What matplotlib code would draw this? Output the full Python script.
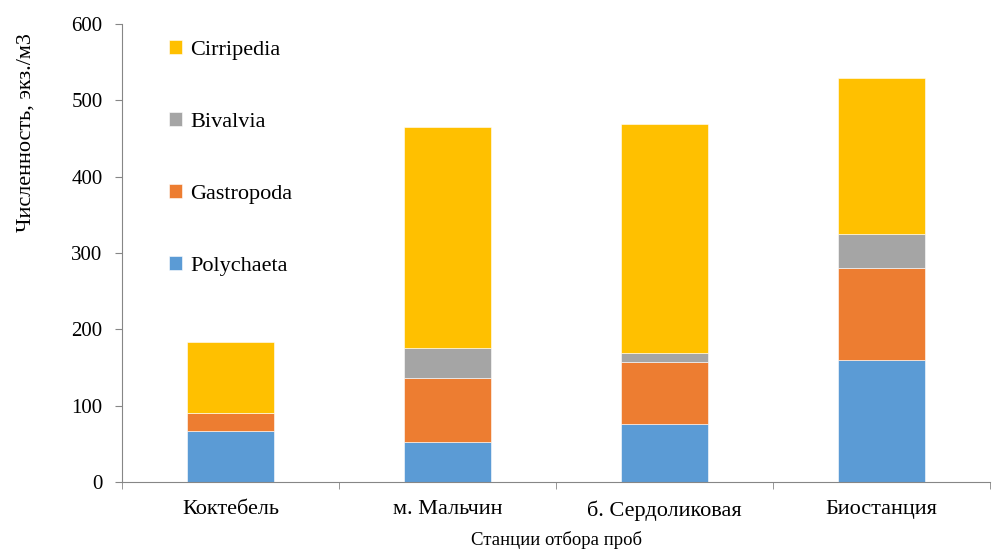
import numpy as np
import matplotlib.pyplot as plt

plt.rcParams['font.family'] = ['Liberation Serif', 'DejaVu Serif']

# --------------------------------------------------
# Data
# --------------------------------------------------
stations = ["Коктебель", "м. Мальчин", "б. Сердоликовая", "Биостанция"]
polychaeta = [67, 52, 76, 160]
gastropoda = [24, 84, 81, 120]
bivalvia = [0, 39, 12, 45]
cirripedia = [92, 290, 300, 204]

series = [
    ("Polychaeta", polychaeta, "#5B9BD5"),
    ("Gastropoda", gastropoda, "#ED7D31"),
    ("Bivalvia", bivalvia, "#A5A5A5"),
    ("Cirripedia", cirripedia, "#FFC000"),
]

fig = plt.figure(figsize=(9.93, 5.51), dpi=100)
ax = fig.add_axes([0.1229, 0.1252, 0.8741, 0.8312])

x = np.arange(len(stations))
bottom = np.zeros(len(stations))
handles = []
for name, vals, col in series:
    h = ax.bar(x, vals, width=0.405, bottom=bottom, color=col,
               edgecolor="white", linewidth=0.4, label=name)
    handles.append(h)
    bottom += np.array(vals)

ax.set_xlim(-0.5, 3.5)
ax.set_ylim(0, 600)
ax.set_yticks(range(0, 601, 100))
ax.set_xticks(x)
ax.set_xticklabels(stations)
ax.set_xticks(np.arange(-0.5, 3.6, 1), minor=True)

ax.tick_params(axis="x", which="major", length=0, pad=13, labelsize=16)
ax.tick_params(axis="x", which="minor", length=5, color="#868686")
ax.tick_params(axis="y", length=5, color="#868686", labelsize=15, pad=9)

for s in ["top", "right"]:
    ax.spines[s].set_visible(False)
for s in ["left", "bottom"]:
    ax.spines[s].set_color("#868686")

ax.set_xlabel("Станции отбора проб", fontsize=13.5)
ax.xaxis.set_label_coords(0.5, -0.108)
ax.set_ylabel("Численность, экз./м3", fontsize=16)
ax.yaxis.set_label_coords(-0.1, 0.764)

ax.legend(handles[::-1], [s[0] for s in series][::-1], loc="upper left",
          bbox_to_anchor=(0.031, 1.009), frameon=False, fontsize=16,
          handlelength=0.6, handleheight=0.6, handletextpad=0.35,
          labelspacing=2.35)

fig.savefig("out.png", dpi=100)
